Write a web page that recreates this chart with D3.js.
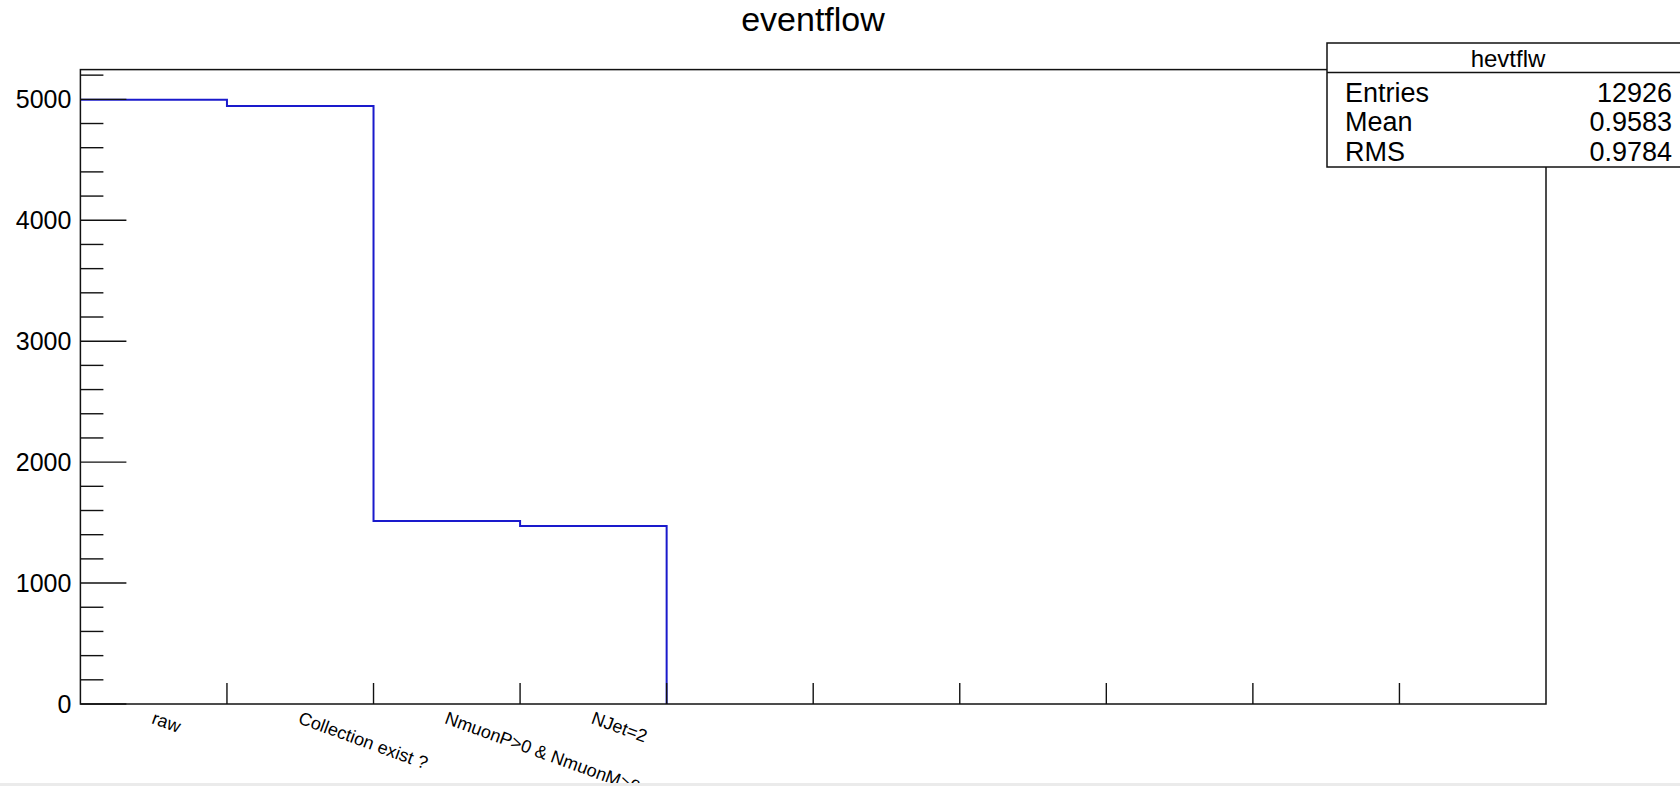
<!DOCTYPE html>
<html>
<head>
<meta charset="utf-8">
<script src="https://cdn.jsdelivr.net/npm/d3@7"></script>
<style>
    body { margin: 0; background: #fff; overflow: hidden; }
    svg text { font-family: "Liberation Sans", Arial, Helvetica, sans-serif; fill: #000; }
</style>
</head>
<body>
<div id="plot"></div>
<script>
// histogram contents, one per bin (bins centred on 0..9)
var binLabels = ["raw", "Collection exist ?", "NmuonP>0 & NmuonM>0", "NJet=2", "", "", "", "", "", ""];
var binCounts = [4996, 4945, 1513, 1472, 0, 0, 0, 0, 0, 0];
var yMajorTicks = [0, 1000, 2000, 3000, 4000, 5000];
var statsNames = ["Entries", "Mean", "RMS"];
var statsValues = ["12926", "0.9583", "0.9784"];
var histName = "hevtflw";
var plotTitle = "eventflow";

var W = 1680, H = 786;
var frame = {left: 80.4, right: 1546, top: 69.6, bottom: 704};

var svg = d3.select("#plot").append("svg")
    .attr("width", W)
    .attr("height", H);

var x = d3.scaleLinear()
    .domain([-0.5, binCounts.length - 0.5])
    .range([frame.left, frame.right]);
var y = d3.scaleLinear()
    .domain([0, 1.05 * d3.max(binCounts)])
    .range([frame.bottom, frame.top]);

// histogram outline as a step line (stops where the contents hit zero)
var path = d3.path();
path.moveTo(x(-0.5), y(binCounts[0]));
for(var i = 0; i < binCounts.length; i++){
    if(i > 0){
        path.lineTo(x(i - 0.5), y(binCounts[i]));
        if(binCounts[i] === 0){ break; }
    }
    path.lineTo(x(i + 0.5), y(binCounts[i]));
}
svg.append("path")
    .attr("d", path.toString())
    .attr("fill", "none")
    .attr("stroke", "#1a1acc")
    .attr("stroke-width", 2);

// y axis ticks drawn inside the frame (major + minor)
var yMinor = d3.range(0, y.domain()[1], 200);
svg.selectAll(".yminor").data(yMinor).enter().append("line")
    .attr("x1", frame.left)
    .attr("x2", function(d){ return frame.left + (d % 1000 === 0 ? 46 : 23); })
    .attr("y1", function(d){ return y(d); })
    .attr("y2", function(d){ return y(d); })
    .attr("stroke", "#111")
    .attr("stroke-width", 1.4);

svg.selectAll(".ylab").data(yMajorTicks).enter().append("text")
    .attr("x", frame.left - 9)
    .attr("y", function(d){ return y(d); })
    .attr("dy", "0.36em")
    .attr("text-anchor", "end")
    .style("font-size", "25px")
    .text(function(d){ return d; });

// x axis ticks at bin edges
var xEdges = d3.range(1, binCounts.length);
svg.selectAll(".xtick").data(xEdges).enter().append("line")
    .attr("x1", function(d){ return x(d - 0.5); })
    .attr("x2", function(d){ return x(d - 0.5); })
    .attr("y1", frame.bottom)
    .attr("y2", frame.bottom - 21)
    .attr("stroke", "#111")
    .attr("stroke-width", 1.4);

// rotated bin labels
svg.selectAll(".xlab").data(binLabels).enter().append("text")
    .attr("transform", function(d, i){
        return "translate(" + (x(i) - 3) + "," + 723 + ") rotate(20)";
    })
    .style("font-size", "18px")
    .text(function(d){ return d; });

// frame
svg.append("rect")
    .attr("x", frame.left)
    .attr("y", frame.top)
    .attr("width", frame.right - frame.left)
    .attr("height", frame.bottom - frame.top)
    .attr("fill", "none")
    .attr("stroke", "#111")
    .attr("stroke-width", 1.5);

// title
svg.append("text")
    .attr("x", 813)
    .attr("y", 31)
    .attr("text-anchor", "middle")
    .style("font-size", "34px")
    .text(plotTitle);

// stats box
var box = svg.append("g");
box.append("rect")
    .attr("x", 1327)
    .attr("y", 43)
    .attr("width", 380)
    .attr("height", 124)
    .attr("fill", "#fff")
    .attr("stroke", "#111")
    .attr("stroke-width", 1.5);
box.append("line")
    .attr("x1", 1327).attr("x2", 1700)
    .attr("y1", 72.5).attr("y2", 72.5)
    .attr("stroke", "#111")
    .attr("stroke-width", 1.5);
box.append("text")
    .attr("x", 1508)
    .attr("y", 67)
    .attr("text-anchor", "middle")
    .style("font-size", "24px")
    .text(histName);
box.selectAll(".sname").data(statsNames).enter().append("text")
    .attr("x", 1345)
    .attr("y", function(d, i){ return 101.5 + i * 29.8; })
    .style("font-size", "27px")
    .attr("textLength", function(d){ return null; })
    .text(function(d){ return d; });
box.selectAll(".sval").data(statsValues).enter().append("text")
    .attr("x", 1672)
    .attr("y", function(d, i){ return 101.5 + i * 29.8; })
    .attr("text-anchor", "end")
    .style("font-size", "27px")
    .text(function(d){ return d; });

// thin grey strip at the bottom edge of the window
svg.append("rect")
    .attr("x", 0).attr("y", 783)
    .attr("width", W).attr("height", 3)
    .attr("fill", "#ebebeb");
</script>
</body>
</html>
